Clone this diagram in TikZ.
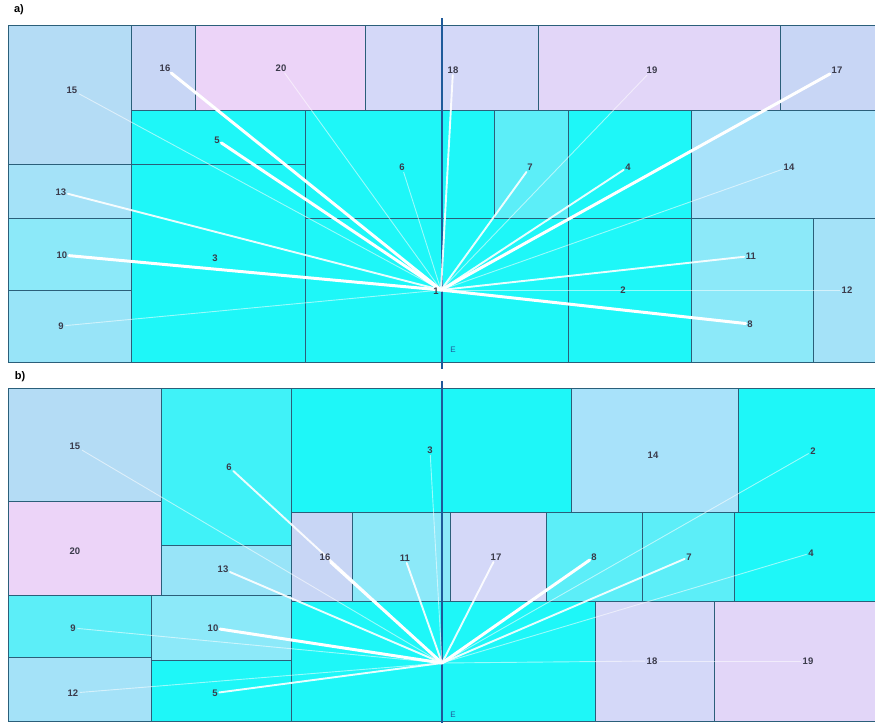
\documentclass[tikz,border=0pt]{standalone}
\usepackage{fontspec}
\setmainfont{Liberation Sans}
\pgfdeclarelayer{top}
\pgfsetlayers{main,top}
\definecolor{cy}{HTML}{1EF7F8}
\definecolor{cyl}{HTML}{5CEEF8}
\definecolor{cyb}{HTML}{40F2F8}
\definecolor{lb}{HTML}{B4DCF5}
\definecolor{lbb}{HTML}{A8E2FA}
\definecolor{lbc}{HTML}{98E4F8}
\definecolor{lbd}{HTML}{8CE9F9}
\definecolor{lbe}{HTML}{A4E2F8}
\definecolor{lav}{HTML}{C8D6F5}
\definecolor{lavb}{HTML}{D4D8F8}
\definecolor{lavc}{HTML}{E2D6F8}
\definecolor{pinkl}{HTML}{ECD4F8}
\definecolor{bord}{HTML}{2B5F7A}
\definecolor{axisc}{HTML}{1E5A9A}
\definecolor{lblc}{HTML}{3A3A4A}
\tikzset{
  cell/.style={draw=bord, line width=0.9pt},
  lbl/.style={font=\bfseries\fontsize{9.5}{10}\selectfont, text=lblc, inner sep=1.5pt},
  plbl/.style={font=\bfseries\fontsize{11}{12}\selectfont, text=black, inner sep=0pt},
  elbl/.style={font=\fontsize{8}{9}\selectfont, text=axisc, inner sep=0pt},
  axisl/.style={draw=axisc, line width=2pt},
  wthick/.style={draw=white, line width=3pt, line cap=round},
  wmed/.style={draw=white, line width=1.9pt, line cap=round, opacity=0.9},
  wthin/.style={draw=white, line width=0.9pt, opacity=0.55},
}
\newcommand{\cellbox}[5]{\path[cell, fill=#5] (#1,#2) rectangle (#3,#4);}
\begin{document}
\begin{tikzpicture}[x=1pt,y=-1pt]
\useasboundingbox (0,0) rectangle (875,723);
\fill[white] (0,0) rectangle (875,723);
% ---------- panel a cells ----------
\cellbox{8}{25}{131}{164}{lb}
\cellbox{131}{25}{195}{110}{lav}
\cellbox{195}{25}{365}{110}{pinkl}
\cellbox{365}{25}{538}{110}{lavb}
\cellbox{538}{25}{780}{110}{lavc}
\cellbox{780}{25}{877}{110}{lav}
\cellbox{131}{110}{305}{164}{cy}
\cellbox{305}{110}{494}{218}{cy}
\cellbox{494}{110}{568}{218}{cyl}
\cellbox{568}{110}{691}{218}{cy}
\cellbox{691}{110}{877}{218}{lbb}
\cellbox{8}{164}{131}{218}{lbe}
\cellbox{131}{164}{305}{362}{cy}
\cellbox{8}{218}{131}{290}{lbd}
\cellbox{8}{290}{131}{362}{lbc}
\cellbox{305}{218}{568}{362}{cy}
\cellbox{568}{218}{691}{362}{cy}
\cellbox{691}{218}{813}{362}{lbd}
\cellbox{813}{218}{877}{362}{lbe}
\draw[axisl] (442,18) -- (442,369);
% ---------- panel b cells ----------
\cellbox{8}{388}{161}{501}{lb}
\cellbox{8}{501}{161}{595}{pinkl}
\cellbox{161}{388}{291}{545}{cyb}
\cellbox{161}{545}{291}{595}{lbc}
\cellbox{291}{388}{571}{512}{cy}
\cellbox{571}{388}{738}{512}{lbb}
\cellbox{738}{388}{877}{512}{cy}
\cellbox{291}{512}{352}{601}{lav}
\cellbox{352}{512}{450}{601}{lbd}
\cellbox{450}{512}{546}{601}{lavb}
\cellbox{546}{512}{642}{601}{cyl}
\cellbox{642}{512}{734}{601}{cyl}
\cellbox{734}{512}{877}{601}{cy}
\cellbox{8}{595}{151}{657}{cyl}
\cellbox{8}{657}{151}{721}{lbe}
\cellbox{151}{595}{291}{660}{lbd}
\cellbox{151}{660}{291}{721}{cy}
\cellbox{291}{601}{595}{721}{cy}
\cellbox{595}{601}{714}{721}{lavb}
\cellbox{714}{601}{877}{721}{lavc}
\draw[axisl] (442,381) -- (442,723);
\begin{pgfonlayer}{top}
% ---------- panel labels ----------
\node[plbl] (pa) at (19,10) {a)};
\node[plbl] (pb) at (20,377) {b)};
\node[elbl] (ea) at (453,350) {E};
\node[elbl] (eb) at (453,715) {E};
% ---------- panel a nodes ----------
\node[lbl] (a1) at (436,291) {1};
\node[lbl] (a15) at (72,90) {15};
\node[lbl] (a16) at (165,68) {16};
\node[lbl] (a20) at (281,68) {20};
\node[lbl] (a18) at (453,70) {18};
\node[lbl] (a19) at (652,70) {19};
\node[lbl] (a17) at (837,70) {17};
\node[lbl] (a5) at (217,140) {5};
\node[lbl] (a6) at (402,167) {6};
\node[lbl] (a7) at (530,167) {7};
\node[lbl] (a4) at (628,167) {4};
\node[lbl] (a14) at (789,167) {14};
\node[lbl] (a13) at (61,192) {13};
\node[lbl] (a10) at (62,255) {10};
\node[lbl] (a3) at (215,258) {3};
\node[lbl] (a11) at (751,256) {11};
\node[lbl] (a9) at (61,326) {9};
\node[lbl] (a2) at (623,290) {2};
\node[lbl] (a12) at (847,290) {12};
\node[lbl] (a8) at (750,324) {8};
% ---------- panel b nodes ----------
\node[lbl] (b15) at (75,446) {15};
\node[lbl] (b6) at (229,467) {6};
\node[lbl] (b3) at (430,450) {3};
\node[lbl] (b14) at (653,455) {14};
\node[lbl] (b2) at (813,451) {2};
\node[lbl] (b20) at (75,551) {20};
\node[lbl] (b13) at (223,569) {13};
\node[lbl] (b16) at (325,557) {16};
\node[lbl] (b11) at (405,558) {11};
\node[lbl] (b17) at (496,557) {17};
\node[lbl] (b8) at (594,557) {8};
\node[lbl] (b7) at (689,557) {7};
\node[lbl] (b4) at (811,553) {4};
\node[lbl] (b9) at (73,628) {9};
\node[lbl] (b10) at (213,628) {10};
\node[lbl] (b12) at (73,693) {12};
\node[lbl] (b5) at (215,693) {5};
\node[lbl] (b18) at (652,661) {18};
\node[lbl] (b19) at (808,661) {19};
\end{pgfonlayer}
\coordinate (ac) at (441,290);
\coordinate (bc) at (442,663);
% panel a connectors
\draw[wthin] (ac) -- (a15);
\draw[wthin] (ac) -- (a20);
\draw[wthin] (ac) -- (a19);
\draw[wthin] (ac) -- (a14);
\draw[wthin] (ac) -- (a9);
\draw[wthin] (ac) -- (a12);
\draw[wthin] (ac) -- (a6);
\draw[wmed] (ac) -- (a18);
\draw[wmed] (ac) -- (a7);
\draw[wmed] (ac) -- (a4);
\draw[wmed] (ac) -- (a13);
\draw[wmed] (ac) -- (a11);
\draw[wthick] (ac) -- (a16);
\draw[wthick] (ac) -- (a5);
\draw[wthick] (ac) -- (a10);
\draw[wthick] (ac) -- (a17);
\draw[wthick] (ac) -- (a8);
% panel b connectors
\draw[wthin] (bc) -- (b15);
\draw[wthin] (bc) -- (b3);
\draw[wthin] (bc) -- (b2);
\draw[wthin] (bc) -- (b4);
\draw[wthin] (bc) -- (b9);
\draw[wthin] (bc) -- (b12);
\draw[wthin] (bc) -- (b18);
\draw[wthin] (b18) -- (b19);
\draw[wmed] (bc) -- (b6);
\draw[wmed] (bc) -- (b13);
\draw[wmed] (bc) -- (b11);
\draw[wmed] (bc) -- (b5);
\draw[wmed] (bc) -- (b17);
\draw[wmed] (bc) -- (b7);
\draw[wthick] (bc) -- (b16);
\draw[wthick] (bc) -- (b10);
\draw[wthick] (bc) -- (b8);
\end{tikzpicture}
\end{document}
